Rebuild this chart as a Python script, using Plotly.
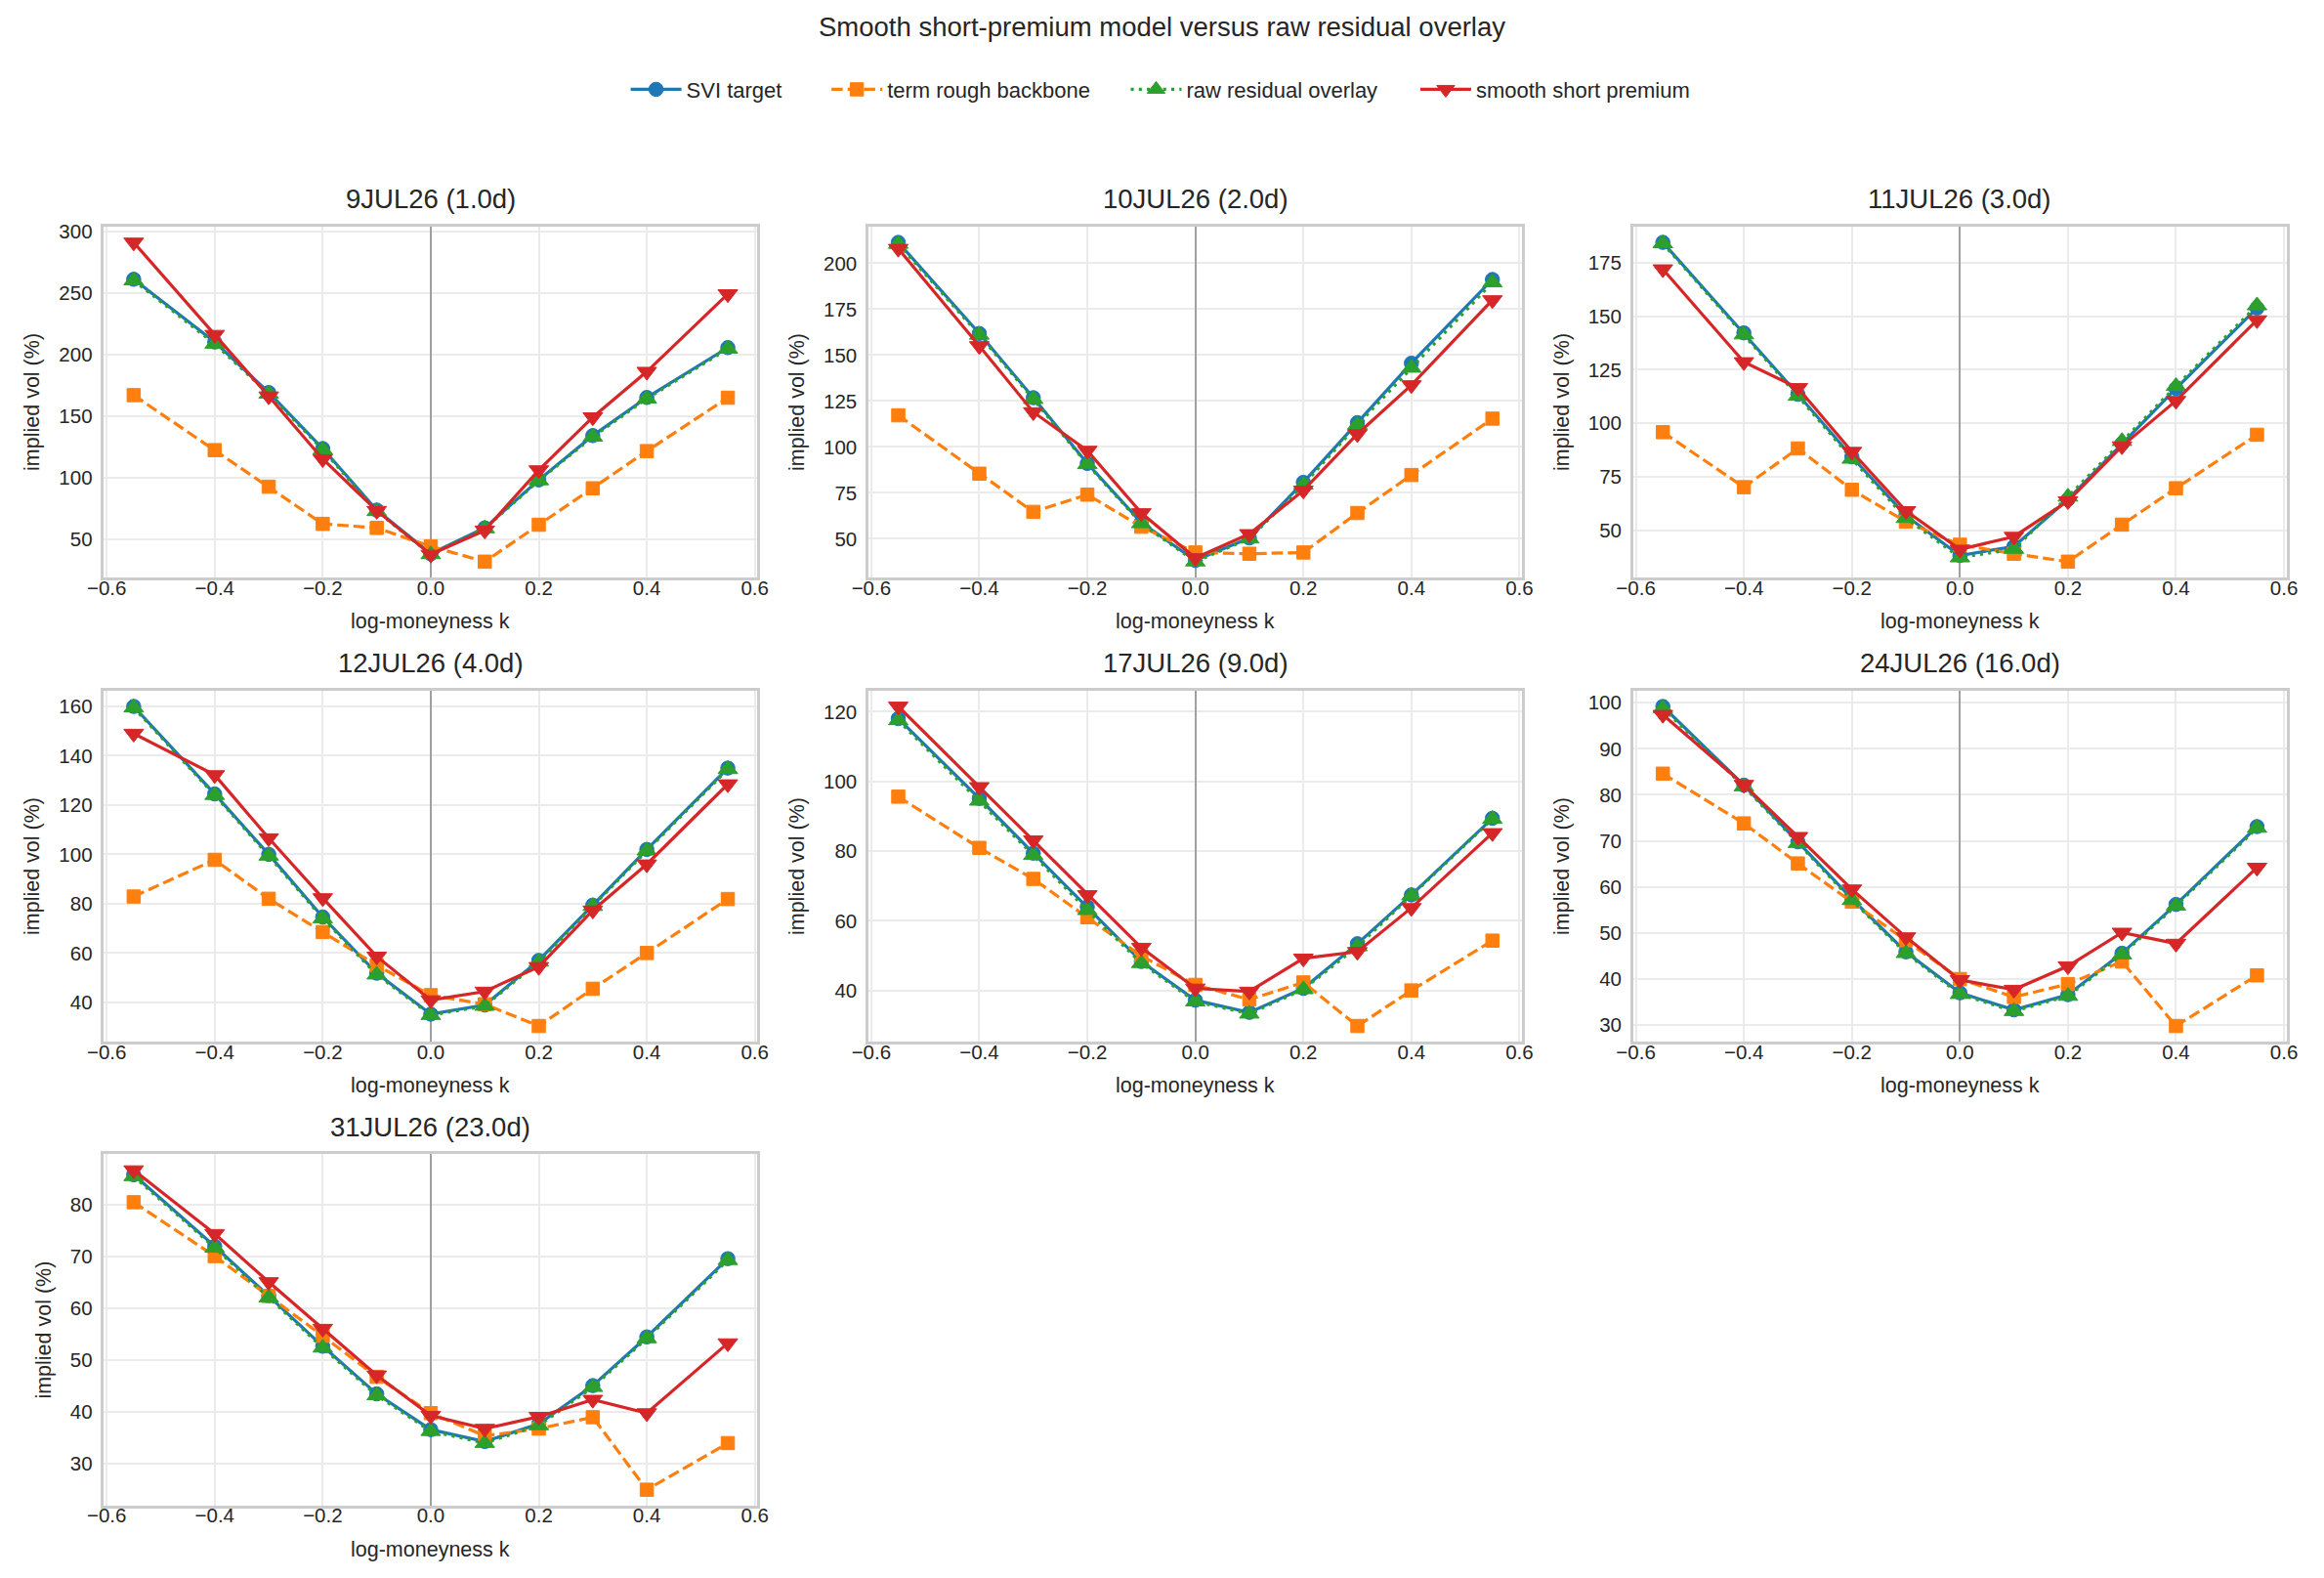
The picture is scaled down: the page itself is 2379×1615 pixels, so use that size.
import plotly.graph_objects as go

# ---------------- data ----------------
k = [-0.55, -0.4, -0.3, -0.2, -0.1, 0.0, 0.1, 0.2, 0.3, 0.4, 0.55]

expiries = ["9JUL26 (1.0d)", "10JUL26 (2.0d)", "11JUL26 (3.0d)", "12JUL26 (4.0d)",
            "17JUL26 (9.0d)", "24JUL26 (16.0d)", "31JUL26 (23.0d)"]

svi_target = [
    [261, 210, 169, 123.5, 73.5, 38, 59, 98, 134, 165, 205.5],
    [211.4, 161.8, 126.8, 91, 58.8, 38.2, 50.4, 80.7, 113.2, 145.6, 191.2],
    [184.5, 142.2, 113.5, 84.3, 56.8, 38.2, 42.4, 64.4, 90.4, 116.2, 153.8],
    [160, 124.5, 100, 74.6, 51.8, 35.2, 38.9, 57, 79.4, 102, 135],
    [118, 95.1, 79.4, 64, 48.3, 37.2, 33.7, 40.6, 53.4, 67.4, 89.4],
    [99.2, 82.1, 69.8, 57.4, 45.9, 37, 33.3, 36.6, 45.6, 56.2, 73.1],
    [85.7, 71.9, 62.3, 52.6, 43.4, 36.5, 34.2, 37.6, 45, 54.4, 69.5],
]

term_rough_backbone = [
    [166.9, 122.2, 92.5, 62.3, 59, 44, 31.6, 61.6, 91.2, 121.4, 164.8],
    [117.2, 85.4, 64.6, 74, 56.5, 42.5, 41.8, 42.5, 64, 84.7, 115.4],
    [95.8, 70.1, 88.2, 68.9, 54, 43.2, 39, 35.3, 52.6, 69.6, 94.6],
    [82.9, 97.8, 82, 68.5, 55, 42.9, 39.2, 30.4, 45.5, 60, 81.9],
    [95.6, 80.9, 72, 61, 49.9, 41.6, 37.4, 42.3, 29.8, 40, 54.3],
    [84.6, 73.8, 65.1, 56.8, 48.4, 40, 36.1, 38.9, 43.8, 29.8, 40.8],
    [80.4, 70, 62.3, 54.6, 46.7, 39.7, 35.3, 36.7, 38.9, 24.9, 33.9],
]

raw_residual_overlay = [
    [260, 208.5, 168, 122.5, 72.5, 37.5, 58.5, 97.5, 133, 164, 204.5],
    [210.5, 161, 126, 90.5, 58.3, 37.5, 50, 79.3, 112, 143, 189.5],
    [184, 141.4, 112.7, 83.3, 55.6, 37.2, 41.2, 65.6, 91.6, 117.3, 155],
    [159.5, 124, 99.4, 74, 51.2, 34.8, 38.5, 56.4, 79, 101.5, 134.5],
    [117.5, 94.4, 78.8, 63, 47.8, 36.8, 33.3, 40.3, 52.6, 67.2, 89.2],
    [98.8, 81.8, 69.5, 57.1, 45.6, 36.7, 33, 36.3, 45.3, 55.9, 72.8],
    [85.4, 71.6, 62, 52.3, 43.1, 36.2, 33.9, 37.3, 44.7, 54.1, 69.2],
]

smooth_short_premium = [
    [291, 216, 166, 115, 73, 37.4, 57, 106, 149, 186, 249],
    [208, 155, 119, 98, 64, 39.5, 52.6, 76.3, 107, 133.7, 180],
    [172, 128.6, 116.5, 86.7, 59, 41, 47, 63.6, 89.3, 110.5, 148.2],
    [149, 132.2, 106.6, 82.3, 58.6, 40.9, 44.4, 54.4, 77.3, 96, 128.5],
    [121.5, 98.4, 83.1, 67.4, 52.3, 40.6, 39.7, 49.2, 51.1, 63.7, 85.2],
    [97.4, 82.2, 70.9, 59.5, 49.1, 39.8, 37.7, 42.8, 50.1, 47.7, 64.2],
    [86.6, 74.3, 65, 56, 47, 39.2, 36.7, 39, 42.3, 39.7, 53.2],
]

x_ticks = [-0.6, -0.4, -0.2, 0.0, 0.2, 0.4, 0.6]
y_dticks = [50, 25, 25, 20, 20, 10, 10]

# ---------------- style / layout ----------------
W, H = 2379, 1615
FONT = "Liberation Sans, Arial, Helvetica, sans-serif"
TXT = "#262626"
TICK_SIZE = 20.5
LABEL_SIZE = 21.5
LEGEND_SIZE = 22
TITLE_SIZE = 27.5

col_px = [(90.5, 767.5), (882.5, 1559.5), (1674.5, 2351.5)]
row_px = [(225.7, 586.7), (702.7, 1064.0), (1179.3, 1540.7)]

# legend entry positions (marker centre, px from left)
legend_px = [661, 869, 1179, 1479]

series = [
    ("SVI target", svi_target, "#1f77b4", "solid", "circle", 14.5),
    ("term rough backbone", term_rough_backbone, "#ff7f0e", "11.6px,5px", "square", 13.5),
    ("raw residual overlay", raw_residual_overlay, "#2ca02c", "3.1px,5.2px", "triangle-up", 17.5),
    ("smooth short premium", smooth_short_premium, "#d62728", "solid", "triangle-down", 17.5),
]

fig = go.Figure()
annotations = []
layout_axes = {}
legend_names = ["legend", "legend2", "legend3", "legend4"]

for i, title in enumerate(expiries):
    r, c = divmod(i, 3)
    suf = "" if i == 0 else str(i + 1)
    for j, (name, data, color, dash, sym, size) in enumerate(series):
        fig.add_trace(go.Scatter(
            x=k, y=data[i], xaxis="x" + suf, yaxis="y" + suf,
            mode="lines+markers", name=name, legendgroup=name,
            showlegend=(i == 0), legend=legend_names[j],
            line=dict(color=color, width=3.2, dash=dash),
            marker=dict(symbol=sym, size=size, color=color,
                        line=dict(color=color, width=1)),
        ))

    vals = svi_target[i] + term_rough_backbone[i] + raw_residual_overlay[i] + smooth_short_premium[i]
    lo, hi = min(vals), max(vals)
    pad = 0.05 * (hi - lo)
    yr = [lo - pad, hi + pad]

    x0, x1 = col_px[c]
    ytop, ybot = row_px[r]
    xd = [x0 / W, x1 / W]
    yd = [1 - ybot / H, 1 - ytop / H]

    common = dict(
        showgrid=True, gridcolor="#ebebeb", gridwidth=1.7,
        showline=True, linecolor="#cccccc", linewidth=2.5, mirror=True,
        ticks="",
        tickfont=dict(family=FONT, size=TICK_SIZE, color=TXT),
    )
    layout_axes["xaxis" + suf] = dict(
        domain=xd, anchor="y" + suf, range=[-0.605, 0.605],
        tickvals=x_ticks, tickformat=".1f", ticklabelstandoff=-10,
        zeroline=True, zerolinecolor="#a0a0a0", zerolinewidth=2,
        **common)
    layout_axes["yaxis" + suf] = dict(
        domain=yd, anchor="x" + suf, range=yr,
        dtick=y_dticks[i], tick0=0, tickformat="d", zeroline=False,
        ticklabelstandoff=5,
        title=dict(text="implied vol (%)", standoff=14,
                   font=dict(family=FONT, size=LABEL_SIZE, color=TXT)),
        **common)

    xc = (x0 + x1) / 2 / W
    # subplot title
    annotations.append(dict(
        text=title, x=xc, y=1 - (ytop - 28) / H, xref="paper", yref="paper",
        xanchor="center", yanchor="middle", showarrow=False,
        font=dict(family=FONT, size=TITLE_SIZE, color=TXT)))
    # x label
    annotations.append(dict(
        text="log-moneyness k", x=xc, y=1 - (ybot + 45) / H, xref="paper", yref="paper",
        xanchor="center", yanchor="middle", showarrow=False,
        font=dict(family=FONT, size=LABEL_SIZE, color=TXT)))

legends = {}
for j, lname in enumerate(legend_names):
    legends[lname] = dict(
        orientation="h", x=(legend_px[j] - 30) / W, xanchor="left",
        y=1 - 85 / H, yanchor="middle",
        font=dict(family=FONT, size=LEGEND_SIZE, color=TXT),
        bgcolor="rgba(0,0,0,0)", itemwidth=52)

fig.update_layout(
    width=W, height=H, autosize=False,
    margin=dict(l=0, r=0, t=0, b=0),
    paper_bgcolor="white", plot_bgcolor="white",
    font=dict(family=FONT, color=TXT),
    title=dict(text="Smooth short-premium model versus raw residual overlay",
               x=0.5, xanchor="center", y=1 - 27 / H, yanchor="middle",
               font=dict(family=FONT, size=TITLE_SIZE, color=TXT)),
    annotations=annotations,
    **legends,
    **layout_axes,
)

fig.write_html("out.html")
